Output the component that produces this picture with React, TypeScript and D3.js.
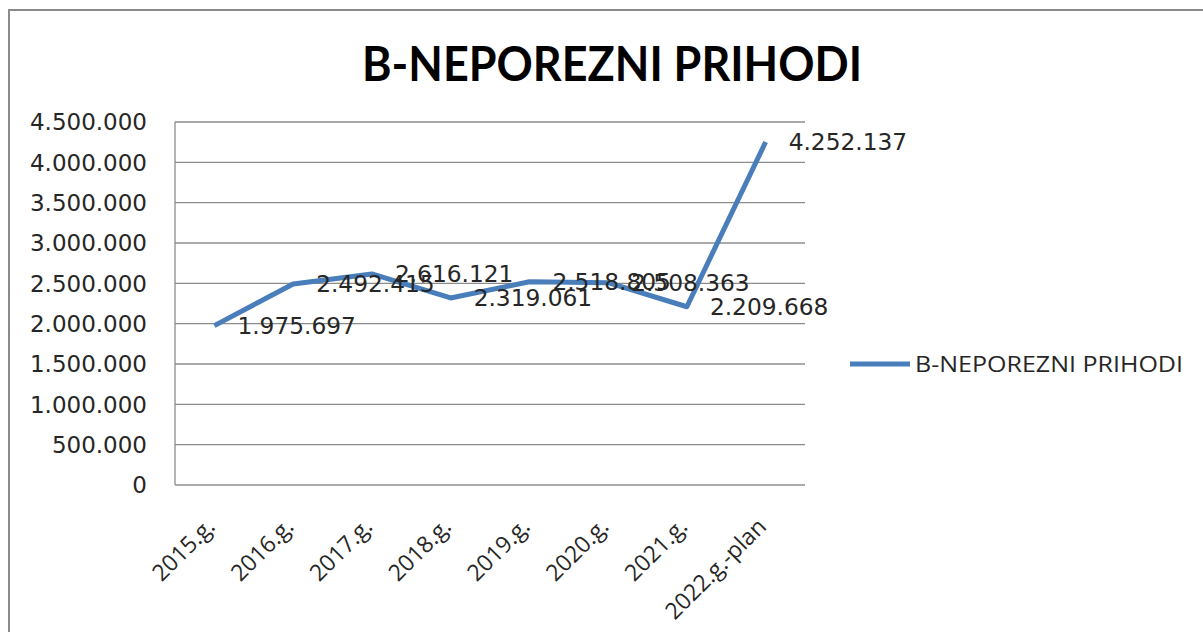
import React from "react";
import * as d3 from "d3";

const categories = ["2015.g.", "2016.g.", "2017.g.", "2018.g.", "2019.g.", "2020.g.", "2021.g.", "2022.g.-plan"];
const values = [1975697, 2492415, 2616121, 2319061, 2518805, 2508363, 2209668, 4252137];
const yTicks = [0, 500000, 1000000, 1500000, 2000000, 2500000, 3000000, 3500000, 4000000, 4500000];
const seriesName = "B-NEPOREZNI PRIHODI";
const title = "B-NEPOREZNI PRIHODI";

const W = 1203;
const H = 632;
const plot = { left: 175, right: 805, top: 122, bottom: 485 };
const lineColor = "#4A7EBB";
const gridColor = "#8C8C8C";
const textColor = "#262626";

const fmt = (v: number) => {
  const s = Math.round(v).toString();
  return s.replace(/\B(?=(\d{3})+(?!\d))/g, ".");
};

export default function App() {
  const x = d3.scaleBand<string>().domain(categories).range([plot.left, plot.right]);
  const y = d3.scaleLinear().domain([0, 4500000]).range([plot.bottom, plot.top]);
  const cx = (c: string) => (x(c) as number) + x.bandwidth() / 2;
  const line = d3
    .line<number>()
    .x((_, i) => cx(categories[i]))
    .y((d) => y(d));

  return (
    <svg
      width={W}
      height={H}
      style={{ position: "absolute", left: 0, top: 0, background: "#fff" }}
    >
      <rect x={0} y={0} width={W} height={H} fill="#fff" />
      {/* outer chart frame (extends past the viewport) */}
      <rect x={9} y={10} width={W + 20} height={H + 20} fill="none" stroke="#8A8A8A" strokeWidth={2} />

      {/* title */}
      <text
        x={612}
        y={81}
        textAnchor="middle"
        fontFamily="Lato, 'Open Sans', sans-serif"
        fontWeight={700}
        fontSize={48}
        textLength={500}
        lengthAdjust="spacingAndGlyphs"
        fill="#000"
      >
        {title}
      </text>

      {/* gridlines */}
      {yTicks.map((t) => (
        <line
          key={"g" + t}
          x1={plot.left}
          x2={plot.right}
          y1={y(t)}
          y2={y(t)}
          stroke={gridColor}
          strokeWidth={1.3}
        />
      ))}
      {/* left axis line */}
      <line x1={plot.left} x2={plot.left} y1={plot.top} y2={plot.bottom} stroke={gridColor} strokeWidth={1.3} />

      {/* y tick labels */}
      {yTicks.map((t) => (
        <text
          key={"yl" + t}
          x={147}
          y={y(t)}
          dy="0.36em"
          textAnchor="end"
          fontFamily="'DejaVu Sans', sans-serif"
          fontSize={23}
          fill={textColor}
        >
          {fmt(t)}
        </text>
      ))}

      {/* x labels */}
      {categories.map((c) => (
        <text
          key={"xl" + c}
          transform={`translate(${cx(c) + 2},${528}) rotate(-45)`}
          textAnchor="end"
          fontFamily="'Open Sans', sans-serif"
          fontSize={23}
          fill={textColor}
        >
          {c}
        </text>
      ))}

      {/* series line */}
      <path
        d={line(values) || ""}
        fill="none"
        stroke={lineColor}
        strokeWidth={5}
        strokeLinejoin="round"
        strokeLinecap="butt"
      />

      {/* data labels */}
      {values.map((v, i) => (
        <text
          key={"dl" + i}
          x={cx(categories[i]) + 23}
          y={y(v)}
          dy="0.36em"
          fontFamily="'DejaVu Sans', sans-serif"
          fontSize={23.3}
          fill={textColor}
        >
          {fmt(v)}
        </text>
      ))}

      {/* legend */}
      <line x1={850} x2={910} y1={364} y2={364} stroke={lineColor} strokeWidth={5} />
      <text
        x={915}
        y={364}
        dy="0.36em"
        fontFamily="'Open Sans', sans-serif"
        fontSize={22}
        textLength={268}
        lengthAdjust="spacingAndGlyphs"
        fill={textColor}
      >
        {seriesName}
      </text>
    </svg>
  );
}
